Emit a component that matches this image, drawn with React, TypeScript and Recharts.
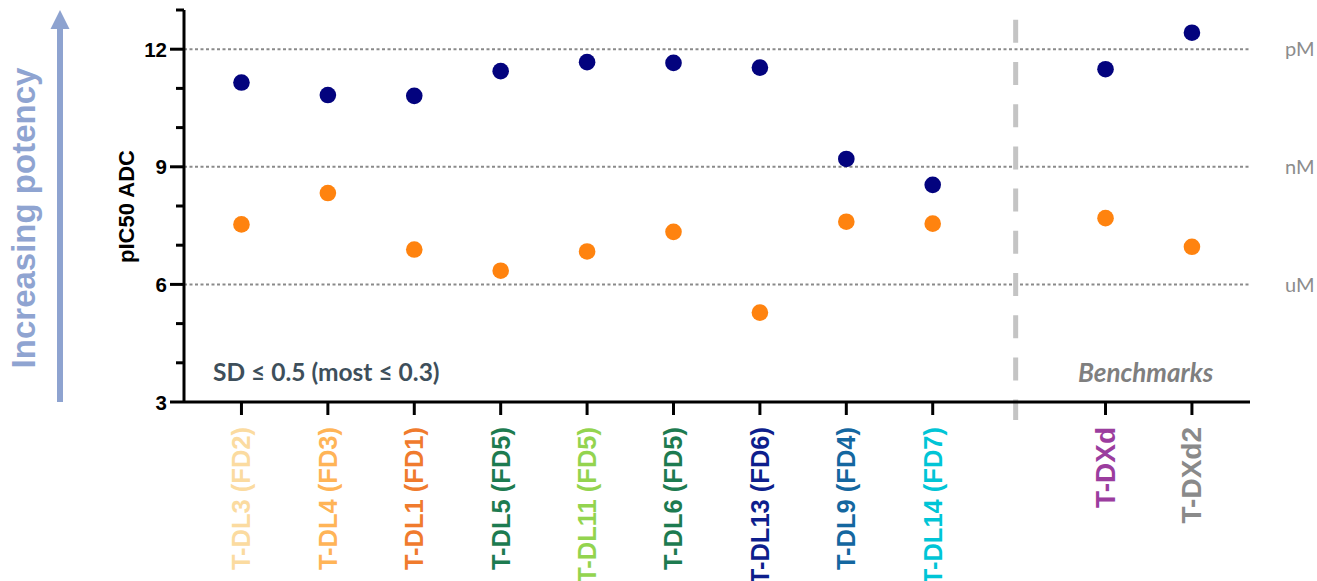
import React from 'react';
import { ScatterChart, Scatter, XAxis, YAxis, ReferenceLine } from 'recharts';

const categories = [
  'T-DL3 (FD2)', 'T-DL4 (FD3)', 'T-DL1 (FD1)', 'T-DL5 (FD5)', 'T-DL11 (FD5)',
  'T-DL6 (FD5)', 'T-DL13 (FD6)', 'T-DL9 (FD4)', 'T-DL14 (FD7)', 'T-DXd', 'T-DXd2',
];
const categoryPositions = [0, 1, 2, 3, 4, 5, 6, 7, 8, 10, 11];
const benchmarkCount = 2;
const labelColors = [
  '#FBDBA0', '#FFB457', '#F07B2D', '#1D7B50', '#93D44F',
  '#1D7B50', '#0D1E8C', '#1467A0', '#00C5D6', '#9B3D9E', '#8A8A8A',
];
const navyValues = [11.15, 10.83, 10.81, 11.44, 11.67, 11.65, 11.53, 9.2, 8.54, 11.49, 12.42];
const orangeValues = [7.53, 8.33, 6.89, 6.35, 6.84, 7.34, 5.28, 7.6, 7.55, 7.69, 6.96];
const yTicks = [3, 4, 5, 6, 7, 8, 9, 10, 11, 12, 13];
const yMajorTicks = [3, 6, 9, 12];
const unitTicks = [12, 9, 6];
const unitNames = ['pM', 'nM', 'uM'];
const dividerPos = 8.96;

const navyData = categories.map((c, i) => ({ name: c, x: categoryPositions[i], y: navyValues[i] }));
const orangeData = categories.map((c, i) => ({ name: c, x: categoryPositions[i], y: orangeValues[i] }));

const ARIAL = '"Liberation Sans", Arial, sans-serif';
const LATO = 'Lato, "Noto Sans", sans-serif';

const XTick = (props: any) => {
  const { x, y, payload } = props;
  const idx = categoryPositions.indexOf(payload.value);
  if (idx < 0) return null;
  const isBench = idx >= categories.length - benchmarkCount;
  return (
    <g>
      <line x1={x} x2={x} y1={y} y2={y + 13} stroke="#000" strokeWidth={3} />
      <text
        transform={`translate(${x},${y + 25}) rotate(-90)`}
        textAnchor="end"
        dominantBaseline="central"
        fill={labelColors[idx]}
        fontSize={isBench ? 28 : 25.5}
        fontWeight="bold"
        fontFamily={ARIAL}
      >
        {categories[idx]}
      </text>
    </g>
  );
};

const YTick = (props: any) => {
  const { x, y, payload } = props;
  const major = yMajorTicks.includes(payload.value);
  return (
    <g>
      <line x1={x - (major ? 14 : 8)} x2={x} y1={y} y2={y} stroke="#000" strokeWidth={3} />
      {major && (
        <text x={x - 17} y={y} textAnchor="end" dominantBaseline="central" fontSize={20.5} fontWeight="bold" fontFamily={ARIAL} fill="#000">
          {payload.value}
        </text>
      )}
    </g>
  );
};

const navyDot = (p: any) => <circle cx={p.cx} cy={p.cy} r={8.3} fill="#03037E" />;
const orangeDot = (p: any) => <circle cx={p.cx} cy={p.cy} r={8.3} fill="#FF830F" />;

export default function App() {
  return (
    <div style={{ position: 'absolute', left: 0, top: 0, width: 1317, height: 581, background: '#fff', overflow: 'hidden' }}>
      <ScatterChart width={1317} height={581} margin={{ top: 10, right: 67, bottom: 0, left: 0 }}>
        <XAxis
          type="number"
          dataKey="x"
          domain={[-0.665, 11.672]}
          ticks={categoryPositions}
          interval={0}
          height={179}
          tickSize={0}
          tickMargin={0}
          tickLine={false}
          axisLine={{ stroke: '#000', strokeWidth: 3 }}
          tick={<XTick />}
          allowDataOverflow
        />
        <YAxis
          type="number"
          dataKey="y"
          domain={[3, 13]}
          ticks={yTicks}
          interval={0}
          width={184}
          tickSize={0}
          tickMargin={0}
          tickLine={false}
          axisLine={{ stroke: '#000', strokeWidth: 3 }}
          tick={<YTick />}
          allowDataOverflow
        />
        {unitTicks.map((v, i) => (
          <ReferenceLine
            key={v}
            y={v}
            stroke="#8A8A8A"
            strokeWidth={2}
            strokeDasharray="3 2.5"
            label={{ value: unitNames[i], position: 'right', offset: 35, fill: '#8C8C8C', fontSize: 20, fontFamily: LATO }}
          />
        ))}
        <ReferenceLine
          segment={[{ x: dividerPos, y: 12.75 }, { x: dividerPos, y: 2.54 }]}
          ifOverflow="visible"
          stroke="#C4C4C4"
          strokeWidth={5}
          strokeDasharray="23 19.2"
        />
        <Scatter data={orangeData} shape={orangeDot} isAnimationActive={false} />
        <Scatter data={navyData} shape={navyDot} isAnimationActive={false} />
      </ScatterChart>
      <svg width={1317} height={581} style={{ position: 'absolute', left: 0, top: 0, pointerEvents: 'none' }}>
        <line x1={60} x2={60} y1={402} y2={26} stroke="#8EA3D0" strokeWidth={6} />
        <polygon points="60,10 50.5,29 69.5,29" fill="#8EA3D0" />
        <text transform="translate(35,218) rotate(-90)" textAnchor="middle" fontSize={33} fontWeight="bold" fontFamily={ARIAL} fill="#8FA4D1">
          Increasing potency
        </text>
        <text transform="translate(134,206.5) rotate(-90)" textAnchor="middle" fontSize={22} fontWeight="bold" fontFamily={ARIAL} fill="#000">
          pIC50 ADC
        </text>
        <text x={213} y={381} fontSize={24.5} fontWeight="bold" fontFamily={LATO} fill="#3E4F5B">
          SD ≤ 0.5 (most ≤ 0.3)
        </text>
        <text x={1078} y={382} fontSize={26} fontWeight="bold" fontStyle="italic" fontFamily={LATO} fill="#7F7F7F">
          Benchmarks
        </text>
      </svg>
    </div>
  );
}
